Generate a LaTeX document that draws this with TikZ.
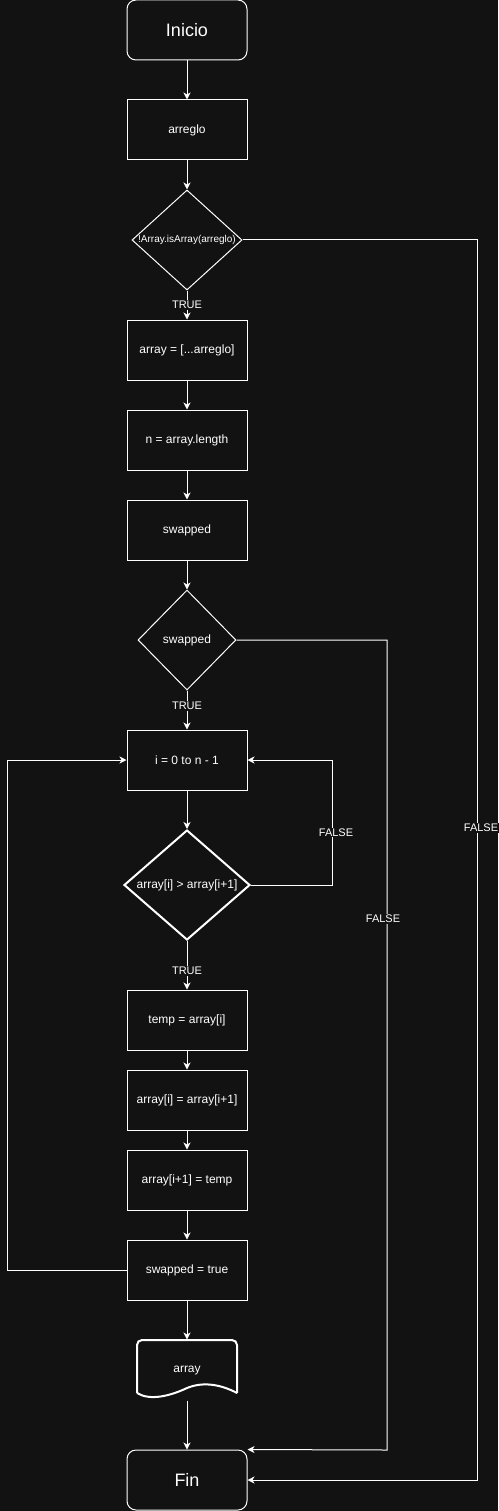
\documentclass[tikz,border=0pt]{standalone}
\usepackage{fontspec}
\setmainfont{Liberation Sans}
\usetikzlibrary{shapes.geometric,arrows.meta}
\definecolor{bg}{HTML}{121212}

\begin{document}
\begin{tikzpicture}[x=1pt,y=-1pt,color=white,line width=1pt,
	box/.style={draw,minimum width=120pt,minimum height=60pt,inner sep=0pt,font=\fontsize{12}{14}\selectfont},
	term/.style={box,rounded corners=9pt,font=\fontsize{18}{21}\selectfont},
	dec/.style={draw,shape=diamond,inner sep=0pt},
	lbl/.style={fill=bg,inner sep=1pt,font=\fontsize{11}{13}\selectfont},
	arr/.style={-{Stealth[length=7pt,width=7pt,inset=2pt]}}]
	\fill[bg] (0,0) rectangle (498,1511);
	\useasboundingbox (0,0) rectangle (498,1511);
	\node (ini) [term] at (187,30) {Inicio};
	\node (arreglo) [box] at (187,130) {arreglo};
	\node (d1) [dec,minimum width=110pt,minimum height=100pt,label={[font=\fontsize{10}{12}\selectfont]center:!Array.isArray(arreglo)}] at (187,240) {};
	\node (copia) [box] at (187,350) {array = [...arreglo]};
	\node (len) [box] at (187,440) {n = array.length};
	\node (sw0) [box] at (187,530) {swapped};
	\node (d2) [dec,minimum width=98pt,minimum height=100pt,label={[font=\fontsize{12}{14}\selectfont]center:swapped}] at (187,640) {};
	\node (loop) [box] at (187,760) {i = 0 to n - 1};
	\node (d3) [dec,line width=2pt,minimum width=126pt,minimum height=110pt,label={[font=\fontsize{12}{14}\selectfont]center:array[i] > array[i+1]}] at (187,885) {};
	\node (tmp) [box] at (187,1020) {temp = array[i]};
	\node (set1) [box] at (187,1100) {array[i] = array[i+1]};
	\node (set2) [box] at (187,1180) {array[i+1] = temp};
	\node (swt) [box] at (187,1270) {swapped = true};
	\node (out) [minimum width=100pt,minimum height=60pt,inner sep=0pt,font=\fontsize{12}{14}\selectfont] at (187,1370) {array};
	\draw[line width=2pt,rounded corners=5pt] (137,1393) -- (137,1340) -- (237,1340) -- (237,1393);
	\draw[line width=2pt] (237,1393) .. controls (222,1385) and (204,1381) .. (187,1388) .. controls (170,1396) and (150,1401) .. (137,1393);
	\node (fin) [term] at (187,1480) {Fin};
	\coordinate (c1) at (477,1480);
	\coordinate (c2) at (387,1450);
	\coordinate (c3) at (332,760);
	\coordinate (c4) at (7,1270);
	\draw[arr] (ini) -- (arreglo);
	\draw[arr] (arreglo) -- (d1);
	\draw[arr] (d1) -- node[lbl]{TRUE} (copia);
	\draw[arr] (copia) -- (len);
	\draw[arr] (len) -- (sw0);
	\draw[arr] (sw0) -- (d2);
	\draw[arr] (d2) -- node[lbl,pos=0.4]{TRUE} (loop);
	\draw[arr] (loop) -- (d3);
	\draw[arr] (d3) -- node[lbl,pos=0.62]{TRUE} (tmp);
	\draw[arr] (tmp) -- (set1);
	\draw[arr] (set1) -- (set2);
	\draw[arr] (set2) -- (swt);
	\draw[arr] (swt) -- (out);
	\draw[arr] (out.south) -- (fin);
	\draw[arr] (d3.east) -| node[lbl,pos=0.71,xshift=4pt]{FALSE} (c3) -- (loop.east);
	\draw[arr] (swt.west) -- (c4) |- (loop.west);
	\draw[arr] (d2.east) -| node[lbl,pos=0.672,xshift=-4pt]{FALSE} (c2) -- (fin.north east);
	\draw[arr] (d1.east) -| node[lbl,pos=0.737,xshift=4pt]{FALSE} (c1) -- (fin.east);
\end{tikzpicture}
\end{document}
